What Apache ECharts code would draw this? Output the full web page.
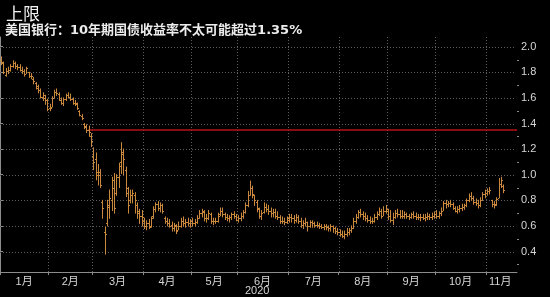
<!DOCTYPE html>
<html><head><meta charset="utf-8">
<script src="https://cdn.jsdelivr.net/npm/echarts@6/dist/echarts.min.js"></script>
<style>html,body{margin:0;padding:0;background:#000;}#c{width:550px;height:297px;}</style>
</head><body><div id="c"></div>
<script>
// Month labels and trading-day index where each month starts
const monthLabels = ['1月','2月','3月','4月','5月','6月','7月','8月','9月','10月','11月'];
const monthStarts = [0,21,40,62,83,103,125,147,168,189,211];
const monthLabelPos = [10.5,30.5,51,72.5,93,114,136,157.5,178.5,200,217.2];
const yTicks = [0.4,0.6,0.8,1.0,1.2,1.4,1.6,1.8,2.0];
const yMinorTicks = [0.3,0.5,0.7,0.9,1.1,1.3,1.5,1.7,1.9];
const capLevel = 1.35;
const capStartIdx = 38.3;
const axisEndIdx = 224.5;
const yMin = 0.24, yMax = 2.076;

// Daily OHLC (10-year Treasury yield, %), trading days 2020
const opens = [
 1.90,1.87,1.78,1.81,1.82,1.85,1.87,1.85,1.84,1.82,1.81,1.79,1.80,1.77,1.75,1.72,1.68,1.66,1.61,1.60,1.58,
 1.52,1.53,1.60,1.65,1.63,1.58,1.56,1.59,1.62,1.61,1.59,1.56,1.55,1.50,1.46,1.40,1.37,1.35,1.30,
 1.15,1.12,1.02,1.00,0.79,0.55,0.62,0.75,0.80,0.90,0.86,0.98,1.10,1.16,1.04,0.86,0.80,0.84,0.84,0.76,0.70,0.68,
 0.64,0.60,0.62,0.60,0.68,0.73,0.77,0.74,0.76,0.66,0.64,0.62,0.61,0.58,0.60,0.57,0.60,0.64,0.62,0.63,0.62,
 0.64,0.62,0.63,0.66,0.70,0.71,0.66,0.66,0.69,0.64,0.64,0.64,0.69,0.72,0.69,0.67,0.66,0.67,0.69,0.68,
 0.65,0.66,0.68,0.71,0.76,0.84,0.90,0.84,0.79,0.73,0.68,0.71,0.75,0.73,0.72,0.70,0.71,0.68,0.67,0.64,0.64,0.63,
 0.66,0.67,0.66,0.65,0.67,0.64,0.61,0.62,0.63,0.60,0.63,0.62,0.61,0.61,0.60,0.59,0.60,0.59,0.58,0.60,0.58,0.56,
 0.55,0.54,0.52,0.54,0.55,0.57,0.58,0.64,0.67,0.71,0.69,0.68,0.66,0.65,0.64,0.64,0.67,0.69,0.72,0.68,0.72,
 0.72,0.68,0.65,0.67,0.70,0.69,0.68,0.68,0.69,0.68,0.67,0.69,0.68,0.67,0.67,0.67,0.66,0.67,0.68,0.67,0.68,
 0.69,0.68,0.70,0.72,0.78,0.77,0.78,0.77,0.74,0.72,0.73,0.74,0.75,0.76,0.80,0.83,0.82,0.79,0.78,0.76,0.80,0.85,
 0.86,0.87,0.80,0.77,0.77,0.82,0.93,0.91
];
const highs = [
 1.92,1.88,1.83,1.84,1.86,1.89,1.88,1.86,1.86,1.84,1.82,1.84,1.80,1.79,1.76,1.72,1.70,1.67,1.64,1.62,1.59,
 1.55,1.61,1.66,1.67,1.64,1.60,1.60,1.63,1.64,1.63,1.60,1.58,1.56,1.50,1.47,1.40,1.39,1.38,1.32,
 1.21,1.17,1.08,1.04,0.80,0.59,0.80,0.88,0.98,1.01,1.00,1.09,1.25,1.20,1.06,0.90,0.88,0.88,0.86,0.78,0.73,0.72,
 0.66,0.64,0.65,0.67,0.75,0.78,0.79,0.78,0.77,0.67,0.66,0.65,0.63,0.62,0.61,0.63,0.66,0.67,0.65,0.66,0.65,
 0.66,0.65,0.68,0.72,0.73,0.72,0.69,0.72,0.70,0.66,0.66,0.70,0.74,0.74,0.70,0.69,0.68,0.70,0.71,0.69,
 0.68,0.70,0.72,0.78,0.87,0.95,0.91,0.84,0.80,0.74,0.72,0.78,0.77,0.76,0.74,0.73,0.73,0.71,0.68,0.67,0.66,0.67,
 0.69,0.69,0.68,0.69,0.68,0.66,0.64,0.66,0.63,0.64,0.64,0.63,0.63,0.62,0.61,0.61,0.61,0.60,0.61,0.60,0.59,0.58,
 0.57,0.56,0.56,0.58,0.58,0.60,0.66,0.69,0.72,0.73,0.71,0.70,0.68,0.67,0.66,0.69,0.71,0.74,0.73,0.75,0.76,
 0.73,0.72,0.70,0.72,0.73,0.72,0.72,0.71,0.70,0.69,0.70,0.71,0.70,0.69,0.69,0.69,0.69,0.70,0.69,0.70,0.71,
 0.72,0.71,0.74,0.79,0.80,0.79,0.80,0.78,0.75,0.75,0.76,0.77,0.77,0.81,0.85,0.86,0.83,0.81,0.80,0.82,0.86,0.88,
 0.89,0.90,0.80,0.79,0.82,0.97,0.98,0.92
];
const lows = [
 1.86,1.79,1.77,1.79,1.81,1.84,1.83,1.82,1.81,1.79,1.77,1.79,1.76,1.75,1.71,1.67,1.64,1.60,1.58,1.55,1.50,
 1.50,1.53,1.60,1.62,1.58,1.55,1.54,1.58,1.60,1.58,1.55,1.54,1.51,1.46,1.43,1.36,1.33,1.30,1.22,
 1.04,0.96,0.92,0.90,0.66,0.38,0.60,0.66,0.72,0.70,0.84,0.90,1.01,1.00,0.83,0.70,0.78,0.78,0.70,0.66,0.62,0.60,
 0.58,0.57,0.58,0.59,0.66,0.71,0.72,0.71,0.70,0.62,0.60,0.59,0.56,0.56,0.54,0.57,0.59,0.60,0.59,0.60,0.59,
 0.60,0.60,0.62,0.66,0.67,0.64,0.63,0.65,0.62,0.61,0.62,0.63,0.68,0.67,0.65,0.64,0.63,0.65,0.66,0.64,
 0.63,0.64,0.66,0.70,0.75,0.84,0.82,0.76,0.71,0.66,0.65,0.70,0.71,0.69,0.67,0.67,0.66,0.65,0.62,0.62,0.61,0.62,
 0.63,0.63,0.62,0.63,0.62,0.59,0.58,0.60,0.56,0.59,0.59,0.59,0.59,0.58,0.58,0.57,0.57,0.56,0.56,0.55,0.54,0.53,
 0.52,0.51,0.50,0.52,0.53,0.55,0.58,0.62,0.66,0.67,0.65,0.64,0.63,0.62,0.62,0.63,0.65,0.68,0.66,0.68,0.70,
 0.65,0.63,0.61,0.66,0.67,0.66,0.66,0.66,0.66,0.65,0.66,0.66,0.65,0.65,0.64,0.65,0.64,0.65,0.65,0.65,0.66,
 0.66,0.66,0.68,0.72,0.74,0.75,0.75,0.73,0.71,0.70,0.71,0.72,0.73,0.75,0.79,0.80,0.77,0.76,0.74,0.75,0.80,0.82,
 0.84,0.85,0.75,0.74,0.76,0.82,0.90,0.86
];
const closes = [
 1.88,1.80,1.81,1.82,1.85,1.87,1.85,1.84,1.82,1.81,1.79,1.83,1.77,1.77,1.73,1.69,1.66,1.61,1.62,1.58,1.51,
 1.52,1.60,1.65,1.64,1.58,1.56,1.59,1.62,1.61,1.59,1.56,1.56,1.52,1.47,1.44,1.38,1.35,1.33,1.26,
 1.10,1.00,1.02,0.92,0.74,0.54,0.76,0.82,0.96,0.74,0.98,1.07,1.18,1.12,0.90,0.76,0.84,0.86,0.80,0.72,0.68,0.67,
 0.60,0.62,0.59,0.66,0.73,0.77,0.74,0.76,0.72,0.64,0.62,0.60,0.58,0.61,0.56,0.60,0.64,0.62,0.63,0.62,0.64,
 0.62,0.63,0.66,0.70,0.72,0.66,0.66,0.70,0.64,0.64,0.64,0.68,0.72,0.69,0.67,0.66,0.67,0.69,0.68,0.65,
 0.66,0.68,0.71,0.76,0.84,0.90,0.85,0.80,0.74,0.68,0.70,0.75,0.73,0.72,0.70,0.71,0.68,0.67,0.64,0.64,0.63,0.65,
 0.67,0.66,0.65,0.67,0.64,0.61,0.62,0.63,0.60,0.63,0.62,0.61,0.61,0.60,0.59,0.60,0.59,0.58,0.60,0.58,0.56,0.55,
 0.54,0.52,0.54,0.55,0.57,0.58,0.64,0.67,0.71,0.69,0.68,0.66,0.65,0.64,0.64,0.67,0.69,0.72,0.68,0.72,0.73,
 0.68,0.65,0.67,0.70,0.69,0.68,0.68,0.69,0.68,0.67,0.69,0.68,0.67,0.67,0.67,0.66,0.67,0.68,0.67,0.68,0.69,
 0.68,0.70,0.72,0.78,0.77,0.78,0.77,0.74,0.72,0.73,0.74,0.75,0.76,0.80,0.83,0.82,0.79,0.78,0.76,0.80,0.85,0.86,
 0.87,0.88,0.77,0.76,0.81,0.93,0.96,0.88
];

const ohlc = closes.map((c, i) => [i, opens[i], c, lows[i], highs[i]]);
const barColor = '#c9883b';
const txt = '#d6d6d6';
const gridColor = '#5e5e5e';
const ff = '"DejaVu Sans", "Noto Sans CJK SC", sans-serif';
const ffNum = '"Liberation Sans", "Noto Sans CJK SC", sans-serif';

// grid lines drawn as rows of 1px dots (solid-dash-free dotted look)
function dottedLine(x1, y1, x2, y2) {
  const dots = [];
  if (Math.abs(y1 - y2) < 0.5) {
    const y = Math.round(y1);
    for (let x = Math.round(x1); x < x2; x += 3) dots.push({type: 'rect', shape: {x: x, y: y, width: 1, height: 1}, style: {fill: gridColor}});
  } else {
    const x = Math.round(x1);
    const top = Math.min(y1, y2), bot = Math.max(y1, y2);
    for (let y = Math.round(top); y < bot; y += 3) dots.push({type: 'rect', shape: {x: x, y: y, width: 1, height: 1}, style: {fill: gridColor}});
  }
  return {type: 'group', children: dots};
}

const chart = echarts.init(document.getElementById('c'), null, {renderer: 'canvas'});
chart.setOption({
  backgroundColor: '#000',
  animation: false,
  title: [
    {text: '上限', left: 1, top: 0, textStyle: {color: '#f2f2f2', fontSize: 17, fontWeight: 'normal', fontFamily: '"Noto Sans CJK SC", sans-serif'}},
    {text: '美国银行：10年期国债收益率不太可能超过1.35%', left: 0, top: 19, textStyle: {color: '#ececec', fontSize: 13, fontWeight: 'bold', fontFamily: ff}}
  ],
  grid: {left: 0, right: 33, top: 37, bottom: 25, containLabel: false, outerBoundsMode: 'none'},
  xAxis: {
    type: 'value', min: 0, max: axisEndIdx,
    axisLine: {show: true, lineStyle: {color: '#8c8c8c', width: 1}},
    axisTick: {show: true, customValues: monthStarts, length: 3, lineStyle: {color: '#8c8c8c'}},
    axisLabel: {
      customValues: monthLabelPos, color: txt, fontSize: 11, fontFamily: ffNum, margin: 4,
      formatter: v => monthLabels[monthLabelPos.indexOf(v)] || ''
    },
    splitLine: {show: false}
  },
  yAxis: {
    type: 'value', position: 'right', min: yMin, max: yMax,
    name: 'Percent', nameLocation: 'middle', nameRotate: -90, nameGap: 21,
    nameTextStyle: {color: txt, fontSize: 12, fontFamily: ffNum},
    axisLine: {show: true, lineStyle: {color: '#8c8c8c', width: 1}},
    axisTick: {show: true, customValues: yTicks, length: 3, inside: false, lineStyle: {color: '#8c8c8c'}},
    axisLabel: {customValues: yTicks, color: txt, fontSize: 11, fontFamily: ffNum, margin: 4,
      formatter: v => v.toFixed(1)},
    splitLine: {show: false}
  },
  graphic: [
    {type: 'text', left: 245, top: 285, style: {text: '2020', fill: txt, fontSize: 11, fontFamily: ffNum}}
  ],
  series: [
    { // horizontal dotted grid lines
      type: 'custom', z: 1, silent: true, clip: false,
      data: yTicks.map(v => [0, v]),
      encode: {x: 0, y: 1},
      renderItem: function (params, api) {
        const a = api.coord([0, api.value(1)]);
        const b = api.coord([axisEndIdx, api.value(1)]);
        return dottedLine(a[0], a[1], b[0] - 1, b[1]);
      }
    },
    { // vertical dotted grid lines at month starts
      type: 'custom', z: 1, silent: true, clip: false,
      data: monthStarts.slice(1).map(v => [v, yMin]),
      encode: {x: 0, y: 1},
      renderItem: function (params, api) {
        const a = api.coord([api.value(0), yMax]);
        const b = api.coord([api.value(0), yMin]);
        return dottedLine(a[0], a[1], b[0], b[1]);
      }
    },
    { // minor ticks on the right axis
      type: 'custom', z: 2, silent: true, clip: false,
      data: yMinorTicks.map(v => [axisEndIdx, v]),
      encode: {x: 0, y: 1},
      renderItem: function (params, api) {
        const p = api.coord([axisEndIdx, api.value(1)]);
        return {type: 'rect', shape: {x: Math.round(p[0]), y: Math.round(p[1]), width: 2, height: 1}, style: {fill: '#8c8c8c'}};
      }
    },
    {
      type: 'line', data: [[capStartIdx, capLevel], [axisEndIdx, capLevel]],
      symbol: 'none', lineStyle: {color: '#b81218', width: 1.5}, z: 3, silent: true
    },
    {
      type: 'custom', data: ohlc, z: 4,
      encode: {x: 0, y: [1, 2, 3, 4]},
      renderItem: function (params, api) {
        const xv = api.value(0) + 0.5;
        const pH = api.coord([xv, api.value(4)]);
        const pL = api.coord([xv, api.value(3)]);
        const pO = api.coord([xv, api.value(1)]);
        const pC = api.coord([xv, api.value(2)]);
        const n = Math.round(pH[0]);
        const cx = n + 0.5;
        const st = {stroke: barColor, lineWidth: 1};
        const yo = Math.round(pO[1]) + 0.5, yc = Math.round(pC[1]) + 0.5;
        return {type: 'group', children: [
          {type: 'line', shape: {x1: cx, y1: pH[1] - 0.5, x2: cx, y2: pL[1] + 0.5}, style: st},
          {type: 'line', shape: {x1: n - 1, y1: yo, x2: n, y2: yo}, style: st},
          {type: 'line', shape: {x1: n + 1, y1: yc, x2: n + 2, y2: yc}, style: st}
        ]};
      }
    }
  ]
});
</script>
</body></html>
